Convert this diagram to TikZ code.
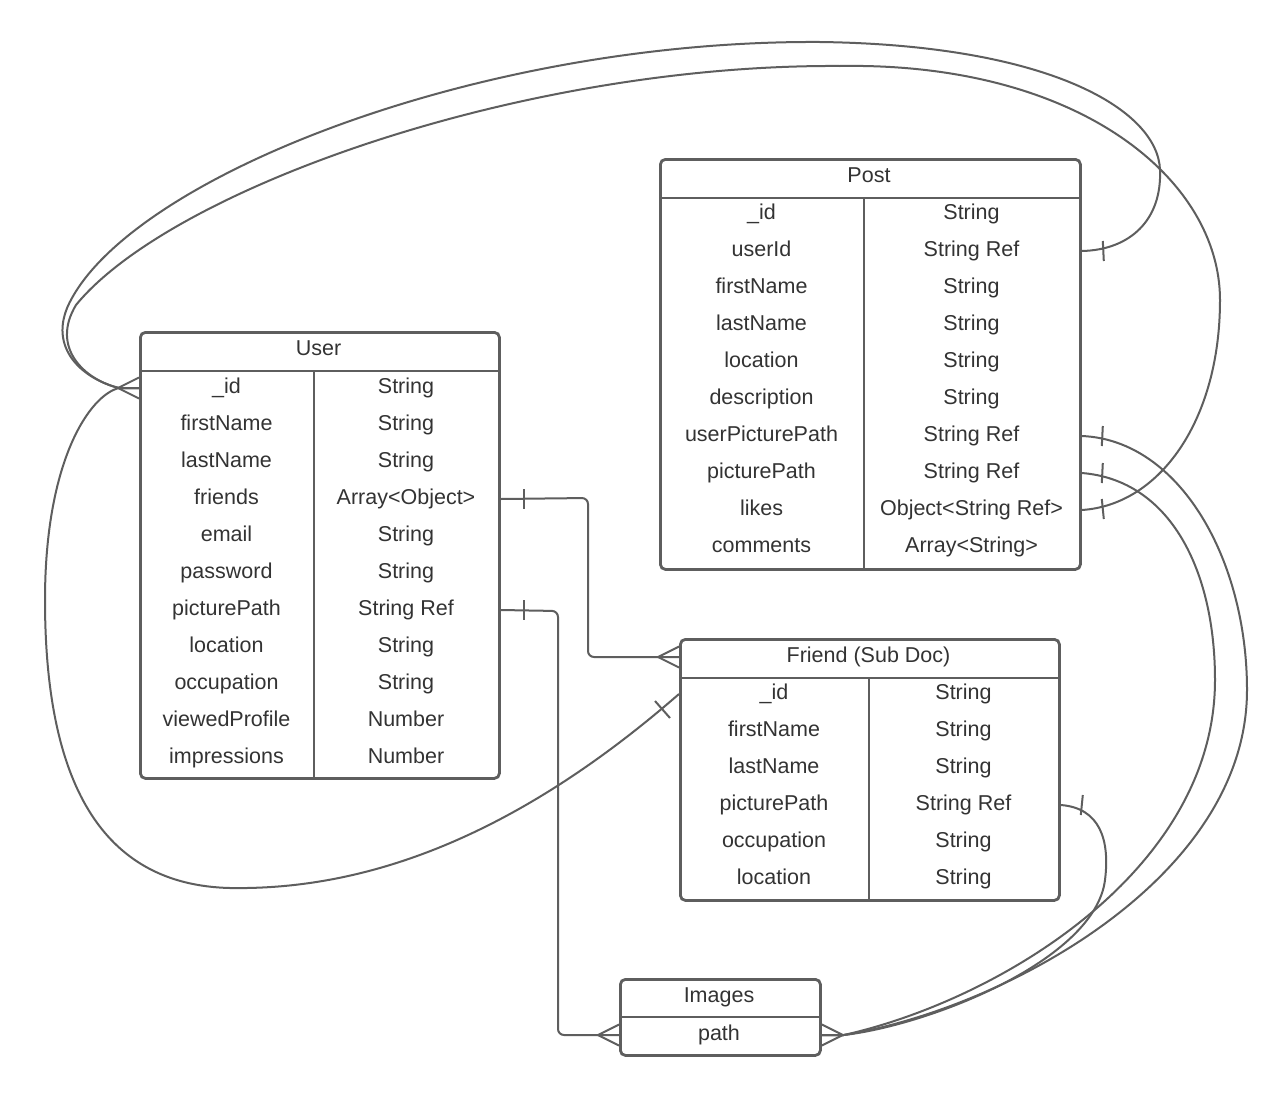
\documentclass[tikz,border=0pt]{standalone}
\usepackage{fontspec}
\setmainfont{Liberation Sans}
\definecolor{lc}{HTML}{5E5E5E}
\definecolor{tc}{HTML}{333333}
\begin{document}
\begin{tikzpicture}[x=1pt,y=-1pt,
  tbl/.style={draw=lc, line width=2.8pt, rounded corners=5pt, anchor=north west, inner sep=0pt},
  sepline/.style={draw=lc, line width=2.8pt},
  txt/.style={text=tc, font=\fontsize{21.5}{25}\selectfont, inner sep=0pt, text height=15.5pt, text depth=4.5pt},
  conn/.style={draw=lc, line width=2pt},
  crowleft/.pic={\draw[conn] (0,-10.5) -- (-21,0) -- (0,10.5);},
  crowright/.pic={\draw[conn] (0,-10.5) -- (21,0) -- (0,10.5);},
]
\useasboundingbox[fill=white] (0,0) rectangle (1288,1095);

% ---------- User ----------
\node[tbl, minimum width=359pt, minimum height=446pt] (user) at (139,331) {};
\draw[sepline] (139,371) -- (498,371);
\draw[sepline] (314,371) -- (314,777);
\node[txt] (user-h) at (318.5,350) {User};
\foreach \a/\b [count=\i] in {\_id/String, firstName/String, lastName/String, friends/Array<Object>, email/String, password/String, picturePath/String Ref, location/String, occupation/String, viewedProfile/Number, impressions/Number}{
  \node[txt] (u\i-n) at (226.5,351+37*\i) {\a};
  \node[txt] (u\i-t) at (406,351+37*\i) {\b};
}

% ---------- Post ----------
\node[tbl, minimum width=420pt, minimum height=410pt] (post) at (659,158) {};
\draw[sepline] (659,198) -- (1079,198);
\draw[sepline] (864,198) -- (864,568);
\node[txt] (post-h) at (869,177) {Post};
\foreach \a/\b [count=\i] in {\_id/String, userId/String Ref, firstName/String, lastName/String, location/String, description/String, userPicturePath/String Ref, picturePath/String Ref, likes/Object<String Ref>, comments/Array<String>}{
  \node[txt] (p\i-n) at (761.5,177+37*\i) {\a};
  \node[txt] (p\i-t) at (971.5,177+37*\i) {\b};
}

% ---------- Friend ----------
\node[tbl, minimum width=379pt, minimum height=261pt] (fr) at (679,638) {};
\draw[sepline] (679,678) -- (1058,678);
\draw[sepline] (869,678) -- (869,899);
\node[txt] (fr-h) at (868.5,657) {Friend (Sub Doc)};
\foreach \a/\b [count=\i] in {\_id/String, firstName/String, lastName/String, picturePath/String Ref, occupation/String, location/String}{
  \node[txt] (f\i-n) at (774,657+37*\i) {\a};
  \node[txt] (f\i-t) at (963.5,657+37*\i) {\b};
}

% ---------- Images ----------
\node[tbl, minimum width=200pt, minimum height=76pt] (img) at (619,978) {};
\draw[sepline] (619,1017) -- (819,1017);
\node[txt] (img-h) at (719,997) {Images};
\node[txt] (img-p) at (719,1035) {path};

% ---------- anchor coordinates ----------
\coordinate (uid) at (user.west |- u1-n);
\coordinate (ufr) at (user.east |- u4-t);
\coordinate (upp) at (user.east |- u7-t);
\coordinate (pui) at (post.east |- p2-t);
\coordinate (pupp) at (post.east |- p7-t);
\coordinate (ppp) at (post.east |- p8-t);
\coordinate (plk) at (post.east |- p9-t);
\coordinate (fh) at (fr.west |- fr-h);
\coordinate (fid) at (fr.west |- f1-n);
\coordinate (fpp) at (fr.east |- f4-t);
\coordinate (iL) at (img.west |- img-p);
\coordinate (iR) at (img.east |- img-p);

% ---------- connectors ----------
% User.friends -> Friend
\draw[conn, rounded corners=6pt] (ufr) -- (588,498) -- (588,657) -- (fh);
\draw[conn] (ufr) ++(23,-10) -- ++(0,20);
\pic at (fh) {crowleft};
% User.picturePath -> Images
\draw[conn, rounded corners=6pt] (upp) -- (558,611) -- (558,1035) -- (iL);
\draw[conn] (upp) ++(23,-10) -- ++(0,20);
\pic at (iL) {crowleft};

% Post.userId -> User._id
\draw[conn] (pui) .. controls (1130,250) and (1162,220) .. (1160,170)
  .. controls (1158,110) and (1050,45) .. (820,42)
  .. controls (480,40) and (140,175) .. (72,298)
  .. controls (45,345) and (80,378) .. ([xshift=-20pt]uid) -- (uid);
\draw[conn] (pui) ++(21,-10) -- ++(1,20);
% Post.likes -> User._id
\draw[conn] (plk) .. controls (1160,505) and (1220,420) .. (1220,300)
  .. controls (1220,180) and (1080,62) .. (840,66)
  .. controls (520,64) and (170,190) .. (76,305)
  .. controls (50,348) and (85,380) .. ([xshift=-20pt]uid) -- (uid);
\draw[conn] (plk) ++(20,-11) -- ++(2,20);
% Friend -> User._id
\draw[conn] (fid) .. controls (500,850) and (350,890) .. (230,888)
  .. controls (100,885) and (45,780) .. (45,600)
  .. controls (45,460) and (90,395) .. ([xshift=-20pt]uid) -- (uid);
\draw[conn] (655,701) -- (670,718);
\pic at (uid) {crowleft};

% Post.userPicturePath -> Images
\draw[conn] (pupp) .. controls (1180,440) and (1247,560) .. (1247,690)
  .. controls (1247,880) and (1000,1010) .. ([xshift=22pt]iR) -- (iR);
\draw[conn] (pupp) ++(21,-10) -- ++(-1,20);
% Post.picturePath -> Images
\draw[conn] (ppp) .. controls (1170,480) and (1215,570) .. (1215,680)
  .. controls (1215,870) and (1000,1000) .. ([xshift=22pt]iR) -- (iR);
\draw[conn] (ppp) ++(21,-10) -- ++(-1,20);
% Friend.picturePath -> Images
\draw[conn] (fpp) .. controls (1100,808) and (1110,840) .. (1105,880)
  .. controls (1095,960) and (930,1025) .. ([xshift=22pt]iR) -- (iR);
\draw[conn] (fpp) ++(22,-10) -- ++(-2,20);
\pic at (iR) {crowright};
\end{tikzpicture}
\end{document}
